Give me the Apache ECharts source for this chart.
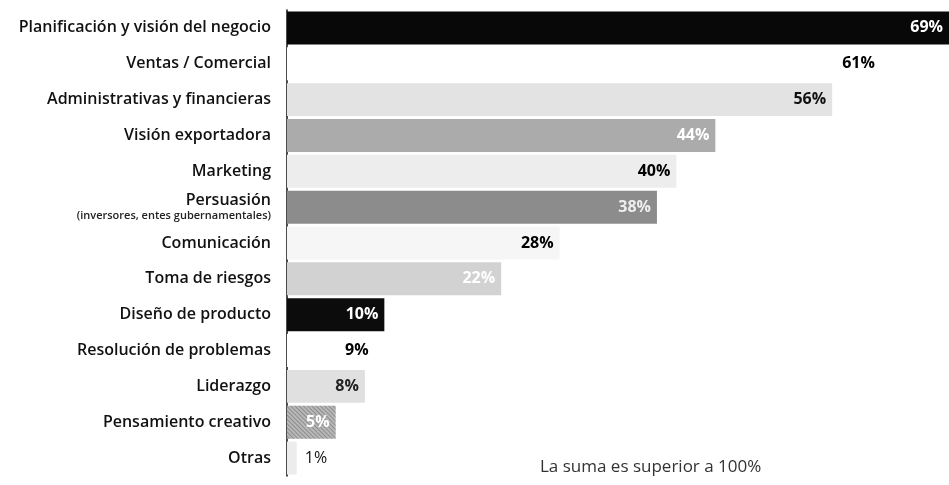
<!DOCTYPE html>
<html>
<head>
<meta charset="utf-8">
<script src="https://cdn.jsdelivr.net/npm/echarts@6/dist/echarts.min.js"></script>
<style>
  html, body { margin: 0; padding: 0; background: #fff; }
  #chart { width: 949px; height: 485px; }
</style>
</head>
<body>
<div id="chart"></div>
<script>
// categorías y porcentajes (la suma es superior a 100%)
const categories = [
  'Planificación y visión del negocio',
  'Ventas / Comercial',
  'Administrativas y financieras',
  'Visión exportadora',
  'Marketing',
  'Persuasión',
  'Comunicación',
  'Toma de riesgos',
  'Diseño de producto',
  'Resolución de problemas',
  'Liderazgo',
  'Pensamiento creativo',
  'Otras'
];
const values = [69, 61, 56, 44, 40, 38, 28, 22, 10, 9, 8, 5, 1];
const barColors = ['#080808', '#ffffff', '#e3e3e3', '#ababab', '#ededed', '#8c8c8c', '#f6f6f6',
  '#d2d2d2', '#0c0c0c', '#ffffff', '#e0e0e0', '#b8b8b8', '#ececec'];
const labelColors = ['#fff', '#000', '#111', '#fff', '#000', '#eee', '#000',
  '#fff', '#fff', '#000', '#222', '#fff', '#111'];

const chart = echarts.init(document.getElementById('chart'));

const seriesData = values.map((v, i) => {
  const item = {
    value: v,
    itemStyle: { color: barColors[i] },
    label: { color: labelColors[i] }
  };
  if (i === values.length - 1) {
    item.label = { position: 'right', distance: 8, fontWeight: 'normal', color: '#111' };
  }
  if (i === 11) {
    // trama rayada del original
    item.itemStyle.decal = {
      symbol: 'rect', dashArrayX: [1, 0], dashArrayY: [1, 2],
      rotation: Math.PI / 4, color: 'rgba(60,60,60,0.35)'
    };
  }
  return item;
});

chart.setOption({
  backgroundColor: '#fff',
  animation: false,
  // la barra más larga sale del borde derecho, como en el original
  grid: { left: 287, right: 0, top: 10, bottom: 9 },
  xAxis: {
    type: 'value',
    min: 0,
    max: 68,
    show: false
  },
  yAxis: {
    type: 'category',
    data: categories,
    inverse: true,
    axisLine: { show: true, lineStyle: { color: '#111', width: 1.5 } },
    axisTick: { show: false },
    axisLabel: {
      margin: 16,
      fontFamily: 'Open Sans',
      fontSize: 16,
      fontWeight: 600,
      color: '#111',
      formatter: (name) => name === 'Persuasión'
        ? '{a|Persuasión}\n{b|(inversores, entes gubernamentales)}'
        : name,
      rich: {
        a: { fontFamily: 'Open Sans', fontSize: 16, fontWeight: 600, color: '#111', align: 'right', lineHeight: 18 },
        b: { fontFamily: 'Open Sans', fontSize: 11, color: '#222', align: 'right', lineHeight: 13 }
      }
    }
  },
  series: [{
    type: 'bar',
    data: seriesData,
    barCategoryGap: '8%',
    label: {
      show: true,
      position: 'insideRight',
      distance: 6,
      formatter: '{c}%',
      fontFamily: 'Open Sans',
      fontSize: 16,
      fontWeight: 'bold'
    }
  }],
  graphic: [{
    type: 'text',
    left: 540,
    top: 459,
    style: {
      text: 'La suma es superior a 100%',
      fontFamily: 'Open Sans',
      fontSize: 17,
      fill: '#333'
    }
  }]
});
</script>
</body>
</html>
